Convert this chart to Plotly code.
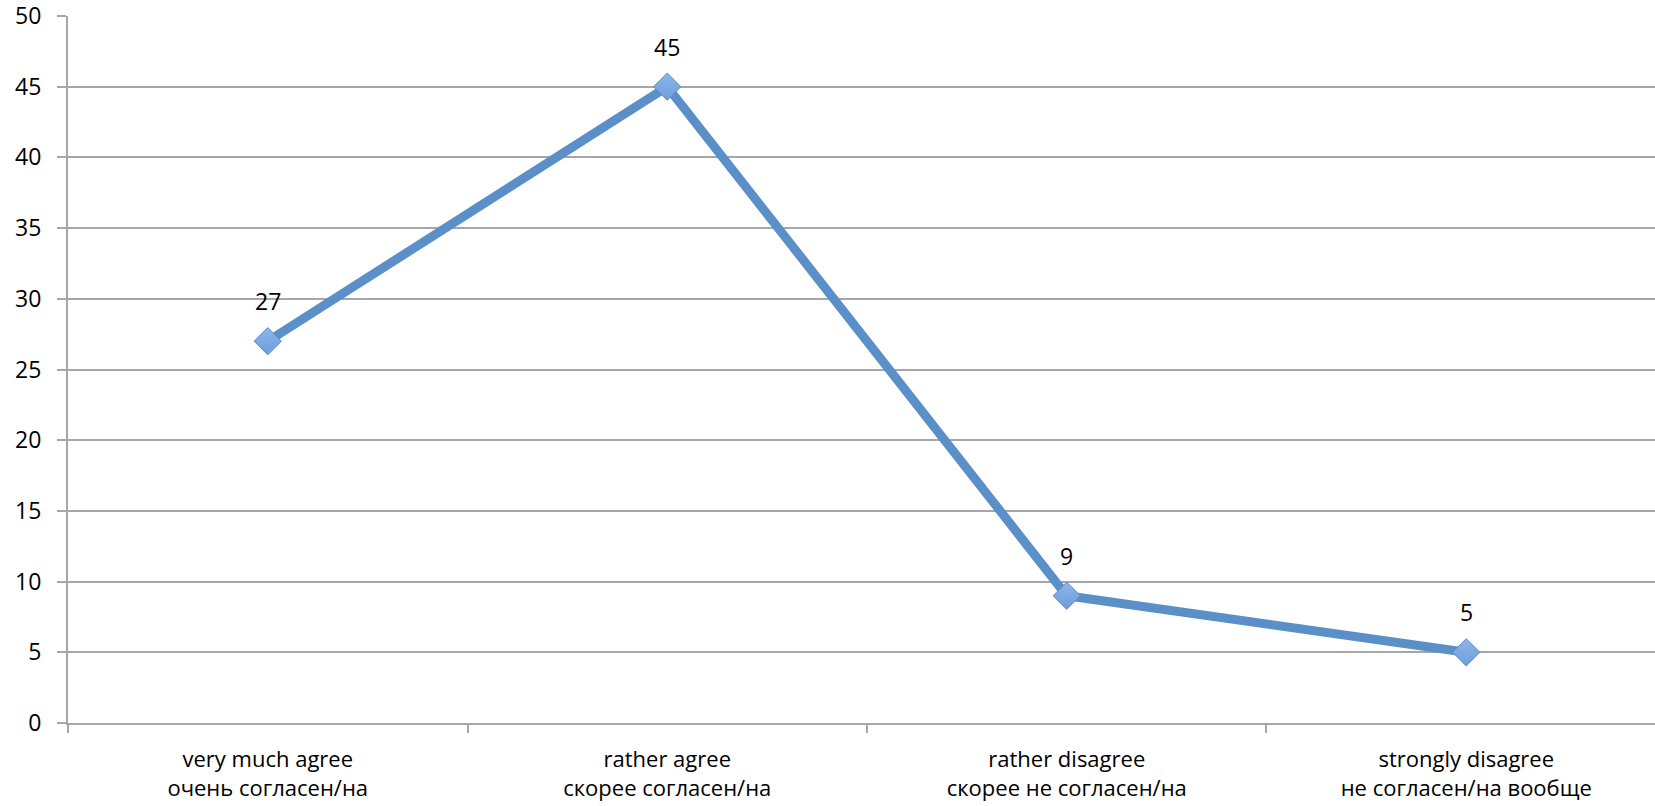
import plotly.graph_objects as go

categories_en = ["very much agree", "rather agree", "rather disagree", "strongly disagree"]
categories_ru = ["очень согласен/на", "скорее согласен/на", "скорее не согласен/на", "не согласен/на вообще"]
values = [27, 45, 9, 5]
y_ticks = [0, 5, 10, 15, 20, 25, 30, 35, 40, 45, 50]

labels = [f"{en}<br>{ru}" for en, ru in zip(categories_en, categories_ru)]

FONT = "Open Sans"
LINE = "#5B8FC8"
GRID = "#A6A6A6"

fig = go.Figure()
fig.add_trace(go.Scatter(
    x=labels, y=values, mode="lines+markers",
    line=dict(color=LINE, width=9),
    marker=dict(symbol="diamond", size=21, color="#8DB5EA",
                gradient=dict(type="vertical", color="#6D9EDB"),
                line=dict(color="#5A8CCB", width=1)),
    hoverinfo="skip", showlegend=False,
))

for lab, v in zip(labels, values):
    fig.add_annotation(x=lab, y=v, text=str(v), showarrow=False,
                       yshift=40, font=dict(family=FONT, size=23, color="#000000"))

fig.update_layout(
    width=1655, height=806,
    margin=dict(l=68, r=0, t=16, b=83),
    paper_bgcolor="white", plot_bgcolor="white",
    font=dict(family=FONT, size=23, color="#000000"),
)
fig.update_xaxes(
    type="category", range=[-0.5, 3.4725], automargin=False,
    tickson="boundaries", ticks="outside", ticklen=8, tickwidth=2, tickcolor=GRID,
    showline=True, linecolor=GRID, linewidth=2,
    showgrid=False, zeroline=False,
    tickfont=dict(family=FONT, size=22, color="#000000"),
    ticklabelstandoff=16, ticklabeloverflow="allow",
)
fig.update_yaxes(
    range=[0, 50], tickvals=y_ticks, ticks="outside", ticklen=9, tickwidth=2, tickcolor=GRID,
    showline=True, linecolor=GRID, linewidth=2, automargin=False,
    showgrid=True, gridcolor=GRID, gridwidth=1.5, zeroline=False,
    tickfont=dict(family=FONT, size=23, color="#000000"),
    ticklabelstandoff=11, ticklabeloverflow="allow",
)

fig.write_html("out.html", config={"displayModeBar": False},
               post_script="document.body.style.margin='0';document.body.style.overflow='hidden';")
